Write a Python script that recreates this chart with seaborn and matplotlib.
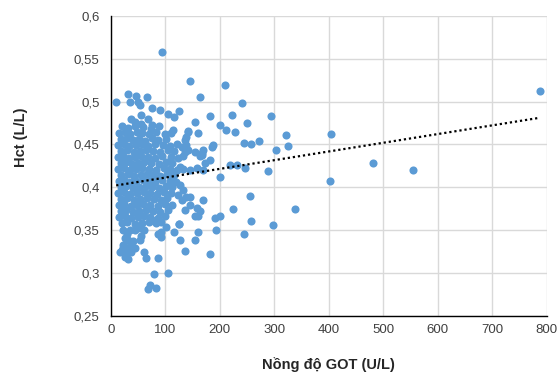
import numpy as np
import pandas as pd
import matplotlib
matplotlib.use("Agg")
import matplotlib.pyplot as plt
from matplotlib.ticker import FuncFormatter
import seaborn as sns

# GOT (U/L), Hct (L/L) pairs
core = [
    (21, 0.471), (31, 0.469), (44, 0.472), (59, 0.470), (74, 0.468), (88, 0.471),
    (15, 0.463), (26, 0.464), (36, 0.462), (48, 0.465), (57, 0.463), (71, 0.462), (84, 0.464), (99, 0.462), (111, 0.463),
    (18, 0.456), (29, 0.457), (41, 0.455), (51, 0.456), (63, 0.454), (75, 0.457), (87, 0.455), (101, 0.456),
    (14, 0.449), (25, 0.450), (33, 0.448), (47, 0.449), (58, 0.451), (69, 0.448), (81, 0.450), (96, 0.449), (109, 0.448),
    (19, 0.442), (30, 0.443), (42, 0.441), (53, 0.442), (65, 0.444), (78, 0.442), (91, 0.441), (105, 0.443), (117, 0.442),
    (13, 0.435), (23, 0.436), (34, 0.434), (45, 0.435), (56, 0.437), (69, 0.435), (82, 0.434), (95, 0.436), (110, 0.435), (124, 0.434),
    (18, 0.428), (28, 0.429), (39, 0.427), (50, 0.428), (61, 0.430), (74, 0.428), (89, 0.427), (101, 0.429), (113, 0.428),
    (14, 0.421), (25, 0.422), (36, 0.420), (47, 0.421), (58, 0.423), (71, 0.421), (83, 0.420), (97, 0.422), (108, 0.421), (121, 0.420), (133, 0.421),
    (18, 0.414), (31, 0.415), (42, 0.413), (55, 0.414), (66, 0.416), (77, 0.414), (91, 0.413), (103, 0.415), (117, 0.414),
    (15, 0.407), (24, 0.408), (35, 0.406), (46, 0.407), (59, 0.409), (70, 0.407), (82, 0.406), (95, 0.408), (108, 0.407), (120, 0.406),
    (19, 0.400), (28, 0.401), (41, 0.399), (52, 0.400), (64, 0.402), (76, 0.400), (88, 0.399), (101, 0.401), (112, 0.400),
    (14, 0.393), (25, 0.394), (36, 0.392), (48, 0.393), (61, 0.395), (72, 0.393), (85, 0.392), (98, 0.394), (110, 0.393),
    (18, 0.386), (30, 0.387), (43, 0.385), (54, 0.386), (66, 0.388), (79, 0.386), (92, 0.385), (104, 0.387),
    (15, 0.379), (24, 0.380), (37, 0.378), (48, 0.379), (60, 0.381), (73, 0.379), (86, 0.378), (99, 0.380), (113, 0.379),
    (18, 0.372), (28, 0.373), (40, 0.371), (52, 0.372), (64, 0.374), (78, 0.372), (90, 0.371), (106, 0.373),
    (16, 0.365), (26, 0.366), (38, 0.364), (50, 0.365), (62, 0.367), (72, 0.365), (86, 0.364), (100, 0.366),
    (20, 0.358), (30, 0.359), (44, 0.357), (57, 0.358), (70, 0.360), (84, 0.358),
]

upper = [
    (10, 0.499), (32, 0.509), (35, 0.500), (47, 0.507), (50, 0.499), (53, 0.496),
    (67, 0.505), (76, 0.493), (90, 0.490), (106, 0.486), (117, 0.482), (125, 0.489),
    (38, 0.480), (56, 0.484), (68, 0.480), (75, 0.473), (56, 0.474), (44, 0.476),
    (95, 0.558), (141, 0.466), (161, 0.463), (115, 0.467),
]

mid = [
    (145, 0.524), (210, 0.519), (163, 0.505), (240, 0.498), (155, 0.476), (182, 0.483),
    (222, 0.484), (200, 0.473), (250, 0.475), (212, 0.467), (228, 0.465), (142, 0.465),
    (139, 0.459), (136, 0.455), (121, 0.451), (130, 0.447), (139, 0.449), (136, 0.441),
    (142, 0.443), (133, 0.436), (170, 0.443), (167, 0.438), (185, 0.447), (188, 0.449),
    (155, 0.441), (167, 0.440), (245, 0.452), (257, 0.451), (272, 0.454), (182, 0.432),
    (173, 0.428), (170, 0.420), (158, 0.423), (145, 0.420), (127, 0.424), (112, 0.416),
    (219, 0.426), (231, 0.426), (246, 0.422), (288, 0.419), (200, 0.412), (127, 0.403),
    (133, 0.397), (124, 0.391), (130, 0.385), (139, 0.389), (145, 0.379), (136, 0.374),
    (158, 0.376), (170, 0.385), (164, 0.372), (155, 0.366), (161, 0.366), (145, 0.389),
    (256, 0.390), (224, 0.375), (191, 0.364), (200, 0.366), (194, 0.350), (126, 0.357),
    (161, 0.348), (127, 0.338), (155, 0.338), (136, 0.326), (183, 0.322), (257, 0.361),
    (245, 0.345), (164, 0.436),
]

lower = [
    (23, 0.350), (29, 0.346), (35, 0.350), (44, 0.350), (53, 0.352), (62, 0.350),
    (93, 0.348), (102, 0.354), (26, 0.341), (32, 0.339), (41, 0.337), (53, 0.339),
    (56, 0.343), (23, 0.333), (35, 0.331), (44, 0.329), (29, 0.325), (38, 0.325),
    (23, 0.329), (62, 0.325), (65, 0.317), (87, 0.318), (80, 0.299), (106, 0.300),
    (68, 0.281), (72, 0.286), (83, 0.283), (125, 0.357), (86, 0.346), (92, 0.342),
    (32, 0.316), (26, 0.319), (17, 0.324), (21, 0.327), (75, 0.362), (93, 0.360),
    (117, 0.348),
]

high_got = [
    (294, 0.483), (321, 0.461), (325, 0.448), (303, 0.444), (404, 0.462), (339, 0.375),
    (298, 0.356), (402, 0.407), (482, 0.428), (554, 0.420), (787, 0.512),
]

x_ticks = [0, 100, 200, 300, 400, 500, 600, 700, 800]
y_ticks = [0.25, 0.3, 0.35, 0.4, 0.45, 0.5, 0.55, 0.6]

df = pd.DataFrame(core + upper + mid + lower + high_got, columns=["got", "hct"])

sns.set_style("white")
plt.rcParams["font.family"] = ["Liberation Sans", "DejaVu Sans"]

fig, ax = plt.subplots(figsize=(5.6, 3.77), dpi=100)
fig.subplots_adjust(left=0.1977, right=0.9762, bottom=0.162, top=0.958)

sns.scatterplot(data=df, x="got", y="hct", ax=ax, s=34, color="#5B9BD5",
                linewidth=0, zorder=3, legend=False)
# linear trendline over the data range
sns.regplot(data=df, x="got", y="hct", ax=ax, scatter=False, ci=None, truncate=True,
            line_kws={"color": "black", "lw": 1.6, "ls": (0, (1, 1.3)), "zorder": 4})

ax.set_xlim(0, 800)
ax.set_ylim(0.25, 0.6)
ax.set_xticks(x_ticks)
ax.set_yticks(y_ticks)
ax.yaxis.set_major_formatter(FuncFormatter(lambda v, p: f"{round(v, 2):g}".replace(".", ",")))
ax.grid(True, color="#D9D9D9", lw=1)
ax.set_axisbelow(True)
ax.tick_params(length=0, labelsize=9.5, colors="#404040")
ax.tick_params(axis="x", pad=6)
ax.tick_params(axis="y", pad=8)

for s in ["top", "right"]:
    ax.spines[s].set_visible(False)
for s in ["left", "bottom"]:
    ax.spines[s].set_color("black")
    ax.spines[s].set_linewidth(1)

ax.set_xlabel("Nồng độ GOT (U/L)", fontsize=10.5, fontweight="bold", color="#262626")
ax.set_ylabel("Hct (L/L)", fontsize=10.5, fontweight="bold", color="#262626")
ax.xaxis.label.set_va("center")
ax.yaxis.label.set_va("center")
ax.yaxis.label.set_ha("center")
ax.xaxis.set_label_coords(0.5, -0.163)
ax.yaxis.set_label_coords(-0.206, 0.596)

fig.savefig("out.png", dpi=100)
